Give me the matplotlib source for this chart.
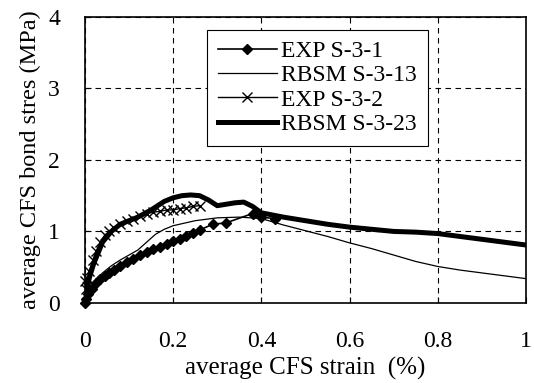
import numpy as np
import matplotlib
matplotlib.use('Agg')
import matplotlib.pyplot as plt

plt.rcParams['font.family'] = ['Liberation Serif', 'DejaVu Serif']

# ── data ─────────────────────────────────────────────────────────────────────
exp1_x = [0, 0.003, 0.008, 0.015, 0.025, 0.035, 0.045, 0.055, 0.065, 0.08, 0.095,
          0.11, 0.125, 0.14, 0.155, 0.17, 0.185, 0.2, 0.215, 0.23, 0.245, 0.26,
          0.29, 0.32, 0.38, 0.40, 0.43]
exp1_y = [0, 0.05, 0.12, 0.2, 0.28, 0.33, 0.38, 0.42, 0.46, 0.52, 0.57,
          0.62, 0.67, 0.71, 0.75, 0.78, 0.82, 0.86, 0.9, 0.94, 0.98, 1.02,
          1.1, 1.12, 1.25, 1.2, 1.18]

rbsm13_x = [0, 0.02, 0.04, 0.06, 0.08, 0.1, 0.12, 0.14, 0.16, 0.18, 0.2, 0.25,
            0.3, 0.35, 0.4, 0.45, 0.5, 0.55, 0.6, 0.65, 0.7, 0.75, 0.8, 0.85,
            0.9, 0.95, 1.0]
rbsm13_y = [0, 0.3, 0.42, 0.52, 0.6, 0.67, 0.74, 0.85, 0.96, 1.03, 1.08, 1.15,
            1.19, 1.2, 1.18, 1.09, 1.01, 0.93, 0.84, 0.76, 0.67, 0.58, 0.51, 0.46,
            0.42, 0.38, 0.34]

exp2_x = [0, 0.002, 0.005, 0.01, 0.018, 0.025, 0.035, 0.045, 0.055, 0.065, 0.08,
          0.095, 0.11, 0.125, 0.14, 0.155, 0.17, 0.185, 0.2, 0.215, 0.23, 0.245, 0.26]
exp2_y = [0.3, 0.2, 0.35, 0.45, 0.6, 0.72, 0.85, 0.95, 1.0, 1.05, 1.1,
          1.15, 1.18, 1.22, 1.25, 1.27, 1.28, 1.3, 1.3, 1.32, 1.33, 1.35, 1.36]

rbsm23_x = [0, 0.01, 0.02, 0.04, 0.06, 0.08, 0.1, 0.12, 0.15, 0.18, 0.2, 0.22,
            0.24, 0.26, 0.28, 0.3, 0.32, 0.34, 0.36, 0.38, 0.4, 0.45, 0.5, 0.55,
            0.6, 0.65, 0.7, 0.75, 0.8, 0.85, 0.9, 0.95, 1.0]
rbsm23_y = [0, 0.35, 0.55, 0.85, 1.0, 1.1, 1.15, 1.2, 1.3, 1.42, 1.47, 1.5,
            1.51, 1.5, 1.44, 1.36, 1.38, 1.4, 1.41, 1.35, 1.26, 1.2, 1.15, 1.1,
            1.06, 1.03, 1.0, 0.99, 0.97, 0.93, 0.89, 0.85, 0.81]

x_ticks = [0, 0.2, 0.4, 0.6, 0.8, 1]
x_ticklabels = ['0', '0.2', '0.4', '0.6', '0.8', '1']
y_ticks = [0, 1, 2, 3, 4]

# ── figure ────────────────────────────────────────────────────────────────────
fig = plt.figure(figsize=(5.34, 3.83), dpi=100)
ax = fig.add_axes([0.159, 0.209, 0.826, 0.747])

ax.plot(exp1_x, exp1_y, color='black', lw=1.2, marker='D', ms=5.5,
        label='EXP S-3-1', clip_on=False, zorder=3)
ax.plot(rbsm13_x, rbsm13_y, color='black', lw=0.9,
        label='RBSM S-3-13', zorder=3)
ax.plot(exp2_x, exp2_y, color='black', lw=1.0, marker='x', ms=7.5, mew=1.0,
        label='EXP S-3-2', clip_on=False, zorder=3)
ax.plot(rbsm23_x, rbsm23_y, color='black', lw=3.6,
        label='RBSM S-3-23', zorder=3)

ax.set_xlim(0, 1)
ax.set_ylim(0, 4)
ax.set_xticks(x_ticks)
ax.set_xticklabels(x_ticklabels)
ax.set_yticks(y_ticks)
ax.tick_params(labelsize=17, direction='in', length=4)
ax.tick_params(axis='x', pad=20)
ax.tick_params(axis='y', pad=18)
ax.grid(True, color='black', linestyle=(0, (5, 4)), linewidth=0.8)
for s in ax.spines.values():
    s.set_linewidth(1.2)

ax.set_xlabel('average CFS strain  (%)', fontsize=18, labelpad=4)
ax.set_ylabel('average CFS bond stres (MPa)', fontsize=17.5, labelpad=5)

leg = ax.legend(loc='upper left', bbox_to_anchor=(0.277, 0.955), fontsize=17,
                frameon=True, fancybox=False, edgecolor='black', framealpha=1,
                handlelength=2.5, handletextpad=0.2, labelspacing=0.12,
                borderpad=0.45, borderaxespad=0)
leg.get_frame().set_linewidth(0.8)

plt.savefig('out.png', dpi=100)
plt.close()
